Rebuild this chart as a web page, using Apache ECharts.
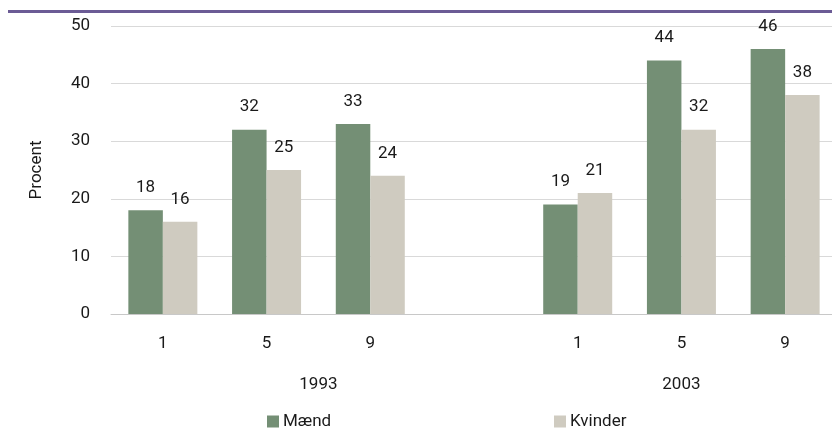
<!DOCTYPE html>
<html>
<head>
<meta charset="utf-8">
<script src="https://cdn.jsdelivr.net/npm/echarts@6/dist/echarts.min.js"></script>
<style>
  html, body { margin: 0; padding: 0; background: #ffffff; overflow: hidden; }
  /* the plot runs slightly past the right edge of the window */
  #chart { width: 840px; height: 428px; }
</style>
</head>
<body>
<div id="chart"></div>
<script>
// Class levels within each survey year; the blank slot separates the two years
const grades = ['1', '5', '9', '', '1', '5', '9'];
// Survey year labels, placed on a half-step axis under the grade labels
const yearSlots = ['', '', '', '', '1993', '', '', '', '', '', '', '2003', '', '', ''];
const seriesNames = ['Mænd', 'Kvinder'];
const maendValues = [18, 32, 33, null, 19, 44, 46];
const kvinderValues = [16, 25, 24, null, 21, 32, 38];
const yTicks = [0, 10, 20, 30, 40, 50];

const FONT = 'Roboto, "Noto Sans", sans-serif';
const TEXT = '#1a1a1a';
const FS = 17;

const chart = echarts.init(document.getElementById('chart'), null, { renderer: 'canvas' });

const labelStyle = {
  show: true,
  position: 'top',
  distance: 14,
  color: TEXT,
  fontFamily: FONT,
  fontSize: FS
};

const legendText = { color: TEXT, fontSize: FS, fontFamily: FONT, padding: [0, 0, 0, -1] };

chart.setOption({
  animation: false,
  backgroundColor: '#ffffff',
  textStyle: { fontFamily: FONT },
  graphic: [{
    type: 'rect',
    shape: { x: 8, y: 10, width: 832, height: 3 },
    style: { fill: '#6b5b95' },
    silent: true
  }],
  legend: [
    {
      data: [seriesNames[0]],
      left: 262, top: 408,
      icon: 'rect', itemWidth: 12, itemHeight: 12, itemGap: 5,
      textStyle: legendText
    },
    {
      data: [seriesNames[1]],
      left: 549, top: 408,
      icon: 'rect', itemWidth: 12, itemHeight: 12, itemGap: 5,
      textStyle: legendText
    }
  ],
  grid: { left: 111, right: 1, top: 26, bottom: 114, containLabel: false },
  xAxis: [
    {
      type: 'category',
      data: grades,
      axisLine: { show: true, lineStyle: { color: '#c8c8c8', width: 1 } },
      axisTick: { show: false },
      axisLabel: { color: TEXT, fontSize: FS, fontFamily: FONT, margin: 21, interval: 0 }
    },
    {
      type: 'category',
      data: yearSlots,
      position: 'bottom',
      boundaryGap: false,
      axisLine: { show: false },
      axisTick: { show: false },
      axisLabel: { color: TEXT, fontSize: FS, fontFamily: FONT, margin: 62, interval: 0 }
    }
  ],
  yAxis: {
    type: 'value',
    min: yTicks[0],
    max: yTicks[yTicks.length - 1],
    interval: yTicks[1] - yTicks[0],
    name: 'Procent',
    nameLocation: 'middle',
    nameGap: 66,
    nameRotate: 90,
    nameTextStyle: { color: TEXT, fontSize: FS, fontFamily: FONT },
    axisLine: { show: false },
    axisTick: { show: false },
    axisLabel: { color: TEXT, fontSize: FS, fontFamily: FONT, margin: 21 },
    splitLine: { lineStyle: { color: '#d9d9d9', width: 1 } }
  },
  series: [
    {
      name: seriesNames[0],
      type: 'bar',
      data: maendValues,
      barWidth: 34.5,
      barGap: '0%',
      itemStyle: { color: '#748f75' },
      label: labelStyle
    },
    {
      name: seriesNames[1],
      type: 'bar',
      data: kvinderValues,
      barWidth: 34.5,
      barGap: '0%',
      itemStyle: { color: '#cfcbc0' },
      label: labelStyle
    }
  ]
});
</script>
</body>
</html>
